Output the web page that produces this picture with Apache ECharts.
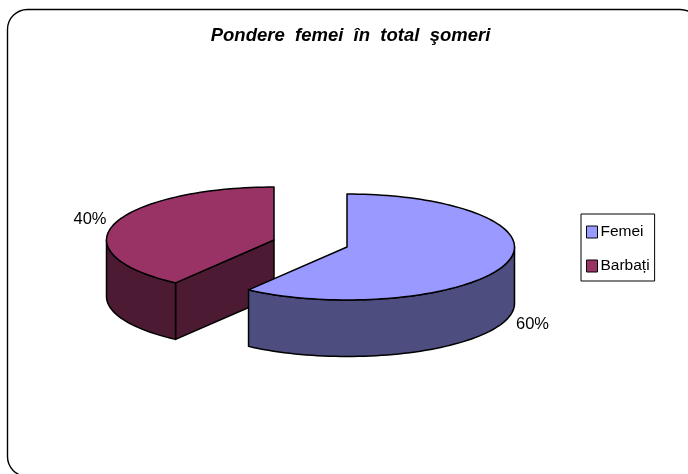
<!DOCTYPE html>
<html><head><meta charset="utf-8">
<style>html,body{margin:0;padding:0;background:#fff}#c{width:688px;height:474px}</style>
<script src="https://cdn.jsdelivr.net/npm/echarts@6/dist/echarts.min.js"></script>
</head><body><div id="c"></div>
<script>
const categories = ['Femei', 'Barbați'];
const values = [60, 40];
const topColors = ['#9999FF', '#993366'];
const sideColors = ['#4D4D80', '#4D1A33'];
const titleText = 'Pondere  femei  în  total  şomeri';

const total = values.reduce((a, b) => a + b, 0);
const RX = 167.5, RY = 53, DEPTH = 56.5;
// slice centre after explosion, and where its percentage label goes
const centres = [[347, 247], [274, 240]];
const labelAt = [[532.5, 324], [90, 219.5]];

function pt(c, deg, dy) {
  const a = deg * Math.PI / 180;
  return [c[0] + RX * Math.sin(a), c[1] - RY * Math.cos(a) + (dy || 0)];
}
function arc(c, from, to, dy) {
  const n = Math.max(2, Math.ceil(Math.abs(to - from) / 2)), out = [];
  for (let i = 0; i <= n; i++) out.push(pt(c, from + (to - from) * i / n, dy));
  return out;
}
function makeSeries(idx) {
  let start = 0;
  for (let i = 0; i < idx; i++) start += values[i] / total * 360;
  const end = start + values[idx] / total * 360;
  const c = centres[idx];
  return {
    type: 'custom', name: categories[idx], coordinateSystem: 'none',
    itemStyle: { color: topColors[idx] },
    data: [values[idx]], silent: true,
    renderItem(params, api) {
      const st = { fill: sideColors[idx], stroke: '#000', lineWidth: 1.5, lineJoin: 'round' };
      const kids = [];
      // cut wall facing the viewer (only when the slice's start edge is on its lower left)
      if (idx === 1) {
        const p = pt(c, start), q = [p[0], p[1] + DEPTH], ap = [c[0], c[1] + DEPTH];
        kids.push({ type: 'polygon', shape: { points: [c, p, q, ap] }, style: st });
      }
      // outer wall: the visible part of the rim lies between 90 and 270 degrees
      const a = Math.max(start, 90), b = Math.min(end, 270);
      if (b > a) {
        const upper = arc(c, a, b, 0), lower = arc(c, b, a, DEPTH);
        kids.push({ type: 'polygon', shape: { points: upper.concat(lower) }, style: st });
      }
      kids.push({ type: 'polygon',
        shape: { points: [c].concat(arc(c, start, end, 0)) },
        style: { fill: topColors[idx], stroke: '#000', lineWidth: 1.5, lineJoin: 'round' } });
      kids.push({ type: 'text', style: {
        x: labelAt[idx][0], y: labelAt[idx][1],
        text: Math.round(values[idx] / total * 100) + '%',
        fill: '#000', font: '16.5px "Liberation Sans"', align: 'center', verticalAlign: 'middle' } });
      return { type: 'group', children: kids };
    }
  };
}
const chart = echarts.init(document.getElementById('c'), null, { renderer: 'canvas' });
chart.setOption({
  animation: false,
  backgroundColor: '#fff',
  graphic: [{ type: 'rect', z: -10, silent: true,
    shape: { x: 7.5, y: 9.5, width: 692.5, height: 467, r: 20 },
    style: { fill: '#fff', stroke: '#000', lineWidth: 1.4 } }],
  title: { text: titleText, left: 345.5, top: 21, textAlign: 'center',
    textStyle: { fontFamily: '"Liberation Sans"', fontSize: 18.5, fontWeight: 'bold', fontStyle: 'italic', color: '#000' } },
  legend: {
    orient: 'vertical', left: 581, top: 214,
    padding: [10, 5, 7, 5], itemGap: 18, itemWidth: 11, itemHeight: 12,
    backgroundColor: '#fff', borderColor: '#000', borderWidth: 1,
    icon: 'rect', data: categories,
    itemStyle: { borderColor: '#000', borderWidth: 1 },
    textStyle: { fontFamily: '"Liberation Sans"', fontSize: 15.5, color: '#000', padding: [0, 0, 0, -2] }
  },
  series: [makeSeries(1), makeSeries(0)]
});
</script></body></html>
